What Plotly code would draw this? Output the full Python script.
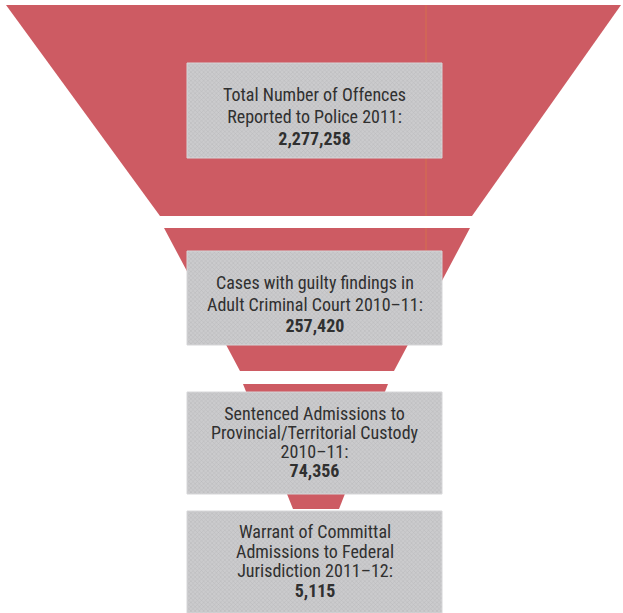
import plotly.graph_objects as go

# ---- funnel stages -------------------------------------------------------
stage_lines = [
    ["Total Number of Offences", "Reported to Police 2011:"],
    ["Cases with guilty findings in", "Adult Criminal Court 2010–11:"],
    ["Sentenced Admissions to", "Provincial/Territorial Custody", "2010–11:"],
    ["Warrant of Committal", "Admissions to Federal", "Jurisdiction 2011–12:"],
]
stage_values = [2277258, 257420, 74356, 5115]

# ---- drawing geometry (page pixel space, y grows downward) ---------------
W, H = 623, 613
# red bands: (y_top, y_bottom, x_left_top, x_right_top, x_left_bottom, x_right_bottom)
BANDS = [
    (5, 216, 6, 621, 160, 472),
    (228, 371, 164, 470, 240, 394),
    (384, 509, 243, 388, 293, 339),
]
BOX_X = (187, 442)
BOX_Y = [(63, 158), (251, 345), (392, 494), (511, 613)]
# first / last text baseline inside each box
TEXT_FIRST = [101, 289, 420, 538]
TEXT_LAST = [145, 332, 477, 597]

RED = "#cd5b63"
FONT = "Roboto Condensed, Roboto, sans-serif"
TEXT_COLOR = "#303030"
FS = 18
LINE_SPACING = 1.3  # plotly's multi-line pitch, in em of the annotation font
ASC, DESC = 0.928, 0.244

fig = go.Figure()

# funnel bands
for (yt, yb, xlt, xrt, xlb, xrb) in BANDS:
    fig.add_trace(go.Scatter(
        x=[xlt, xrt, xrb, xlb, xlt], y=[yt, yt, yb, yb, yt],
        mode="lines", fill="toself", fillcolor=RED,
        line=dict(width=0, color=RED), hoverinfo="skip", showlegend=False,
    ))

# faint orange print line over the upper bands
for y0, y1 in [(5, 216), (228, 251)]:
    fig.add_trace(go.Scatter(
        x=[426, 426], y=[y0, y1], mode="lines",
        line=dict(width=1, color="rgba(222,130,60,0.55)"),
        hoverinfo="skip", showlegend=False,
    ))

# grey label boxes with a fine screen texture
x0, x1 = BOX_X
for (yt, yb) in BOX_Y:
    fig.add_trace(go.Scatter(
        x=[x0, x1, x1, x0, x0], y=[yt, yt, yb, yb, yt],
        mode="lines", fill="toself", fillcolor="#c6c6c8",
        fillpattern=dict(shape="x", size=3, solidity=0.3,
                         fgcolor="#a4a4a8", bgcolor="#cbcbcd"),
        line=dict(width=1, color="#d6d6d8"),
        hoverinfo="skip", showlegend=False,
    ))

# one multi-line label per box; the annotation font sets the line pitch,
# the inner spans set the glyph size
cx = (x0 + x1) / 2
for lines, value, first, last in zip(stage_lines, stage_values, TEXT_FIRST, TEXT_LAST):
    n_gaps = len(lines)
    pitch = (last - first) / n_gaps
    base = pitch / LINE_SPACING
    rows = [f'<span style="font-size:{FS}px">{t}</span>' for t in lines]
    rows.append(f'<span style="font-size:{FS}px"><b>{value:,}</b></span>')
    yc = (first - ASC * FS + last + DESC * FS) / 2
    fig.add_annotation(
        x=cx, y=yc, text="<br>".join(rows), showarrow=False,
        xanchor="center", yanchor="middle", align="center",
        font=dict(family=FONT, size=base, color=TEXT_COLOR),
    )

fig.update_layout(
    width=W, height=H,
    margin=dict(l=0, r=0, t=0, b=0),
    paper_bgcolor="white", plot_bgcolor="white",
    xaxis=dict(range=[0, W], visible=False, fixedrange=True),
    yaxis=dict(range=[H, 0], visible=False, fixedrange=True),
)

fig.write_html("out.html")
